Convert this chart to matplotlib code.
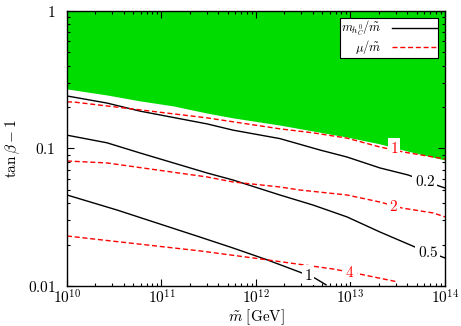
import numpy as np
import matplotlib
matplotlib.use("Agg")
import matplotlib.pyplot as plt
from matplotlib.ticker import FixedLocator, FixedFormatter, LogLocator, NullFormatter

plt.rcParams['mathtext.fontset'] = 'cm'
plt.rcParams['font.family'] = 'DejaVu Serif'

# excluded region (green), lower edge
m_excl = [1.00e10, 2.65e10, 5.92e10, 1.33e11, 3.03e11, 5.71e11, 1.79e12, 4.01e12, 9.18e12, 2.05e13, 3.60e13, 1.00e14]
t_excl = [0.271, 0.245, 0.222, 0.204, 0.181, 0.167, 0.148, 0.134, 0.121, 0.108, 0.0975, 0.0824]

# m_hC0 / m~ contours (black)
m_h02 = [1.00e10, 2.65e10, 5.92e10, 3.03e11, 5.71e11, 1.79e12, 4.75e12, 9.18e12, 2.05e13, 4.06e13, 8.04e13, 1.00e14]
t_h02 = [0.241, 0.214, 0.187, 0.151, 0.136, 0.118, 0.0975, 0.0867, 0.0722, 0.0642, 0.0543, 0.0516]
m_h05 = [1.00e10, 2.65e10, 5.92e10, 3.03e11, 5.71e11, 1.79e12, 4.01e12, 9.18e12, 2.05e13, 4.82e13, 1.00e14]
t_h05 = [0.125, 0.110, 0.0928, 0.0664, 0.0590, 0.0459, 0.0388, 0.0318, 0.0247, 0.0192, 0.0160]
m_h1 = [1.00e10, 3.38e10, 2.55e11, 5.71e11, 1.31e12, 2.92e12, 4.21e12, 5.51e12]
t_h1 = [0.0459, 0.0357, 0.0227, 0.0189, 0.0155, 0.0126, 0.0114, 0.0102]

# mu / m~ contours (red dashed)
m_mu1 = [1.00e10, 1.16e10, 5.92e10, 3.03e11, 1.79e12, 4.01e12, 9.18e12, 2.05e13, 3.60e13, 1.00e14]
t_mu1 = [0.218, 0.218, 0.191, 0.167, 0.139, 0.130, 0.119, 0.1025, 0.0944, 0.0839]
m_mu2 = [1.00e10, 2.65e10, 3.03e11, 5.71e11, 1.79e12, 2.92e12, 9.18e12, 2.05e13, 3.51e13, 7.46e13, 1.00e14]
t_mu2 = [0.0811, 0.0785, 0.0621, 0.0571, 0.0525, 0.0499, 0.0459, 0.0408, 0.0369, 0.0340, 0.0318]
m_mu4 = [1.00e10, 2.55e11, 1.31e12, 6.53e12, 1.26e13, 3.18e13]
t_mu4 = [0.0231, 0.0180, 0.0155, 0.0133, 0.0122, 0.0107]

# contour labels: text, m, tan(beta)-1, colour
labels = [("0.2", 6.14e13, 0.058, "black"),
          ("0.5", 6.6e13, 0.0174, "black"),
          ("1", 3.55e12, 0.0120, "black"),
          ("1", 2.88e13, 0.1008, "red"),
          ("2", 2.88e13, 0.0376, "red"),
          ("4", 9.89e12, 0.0126, "red")]

fig = plt.figure(figsize=(4.61, 3.26), dpi=100)
ax = fig.add_axes([0.1453, 0.1227, 0.82, 0.8436])

ax.fill_between(m_excl, t_excl, 1, color='#00dc00', lw=0, zorder=1)

kw_h = dict(color='black', lw=1.0, zorder=2)
kw_mu = dict(color='red', lw=1.0, dashes=(3.6, 2.0), zorder=3)
ax.plot(m_h02, t_h02, label=r'$m_{h_C^0}/\tilde{m}$', **kw_h)
ax.plot(m_h05, t_h05, **kw_h)
ax.plot(m_h1, t_h1, **kw_h)
ax.plot(m_mu1, t_mu1, label=r'$\mu/\tilde{m}$', **kw_mu)
ax.plot(m_mu2, t_mu2, **kw_mu)
ax.plot(m_mu4, t_mu4, **kw_mu)

for txt, mx, ty, col in labels:
    ax.text(mx, ty, '$' + txt + '$', color=col, fontsize=11, ha='center', va='center', zorder=4,
            bbox=dict(facecolor='white', edgecolor='none', pad=1.5))

ax.set_xscale('log')
ax.set_yscale('log')
ax.set_xlim(1e10, 1e14)
ax.set_ylim(0.01, 1)

ax.xaxis.set_major_locator(FixedLocator([1e10, 1e11, 1e12, 1e13, 1e14]))
ax.xaxis.set_major_formatter(FixedFormatter([r'$10^{10}$', r'$10^{11}$', r'$10^{12}$', r'$10^{13}$', r'$10^{14}$']))
ax.yaxis.set_major_locator(FixedLocator([0.01, 0.1, 1]))
ax.yaxis.set_major_formatter(FixedFormatter([r'$0.01$', r'$0.1$', r'$1$']))
ax.xaxis.set_minor_locator(LogLocator(base=10, subs=np.arange(2, 10), numticks=20))
ax.yaxis.set_minor_locator(LogLocator(base=10, subs=np.arange(2, 10), numticks=20))
ax.xaxis.set_minor_formatter(NullFormatter())
ax.yaxis.set_minor_formatter(NullFormatter())
ax.tick_params(which='both', direction='in', top=True, right=True, labelsize=11)
ax.tick_params(axis='x', pad=2)
ax.tick_params(axis='y', pad=8)
ax.tick_params(which='major', length=5, width=0.8)
ax.tick_params(which='minor', length=2.5, width=0.8)
for s in ax.spines.values():
    s.set_linewidth(1.0)
    s.set_zorder(5)

ax.set_xlabel(r'$\tilde{m}\ [\mathrm{GeV}]$', fontsize=11, labelpad=0)
ax.set_ylabel(r'$\tan\beta-1$', fontsize=11, labelpad=4)

leg = ax.legend(loc='upper right', markerfirst=False, fontsize=9, fancybox=False,
                framealpha=1, edgecolor='black', handlelength=3.6, handletextpad=0.8,
                borderpad=0.1, labelspacing=0.0, borderaxespad=0,
                bbox_to_anchor=(0.982, 0.975))
leg.get_frame().set_linewidth(0.8)
for t in leg.get_texts():
    t.set_ha('right')
leg.set_zorder(6)

fig.savefig('out.png', dpi=100)
